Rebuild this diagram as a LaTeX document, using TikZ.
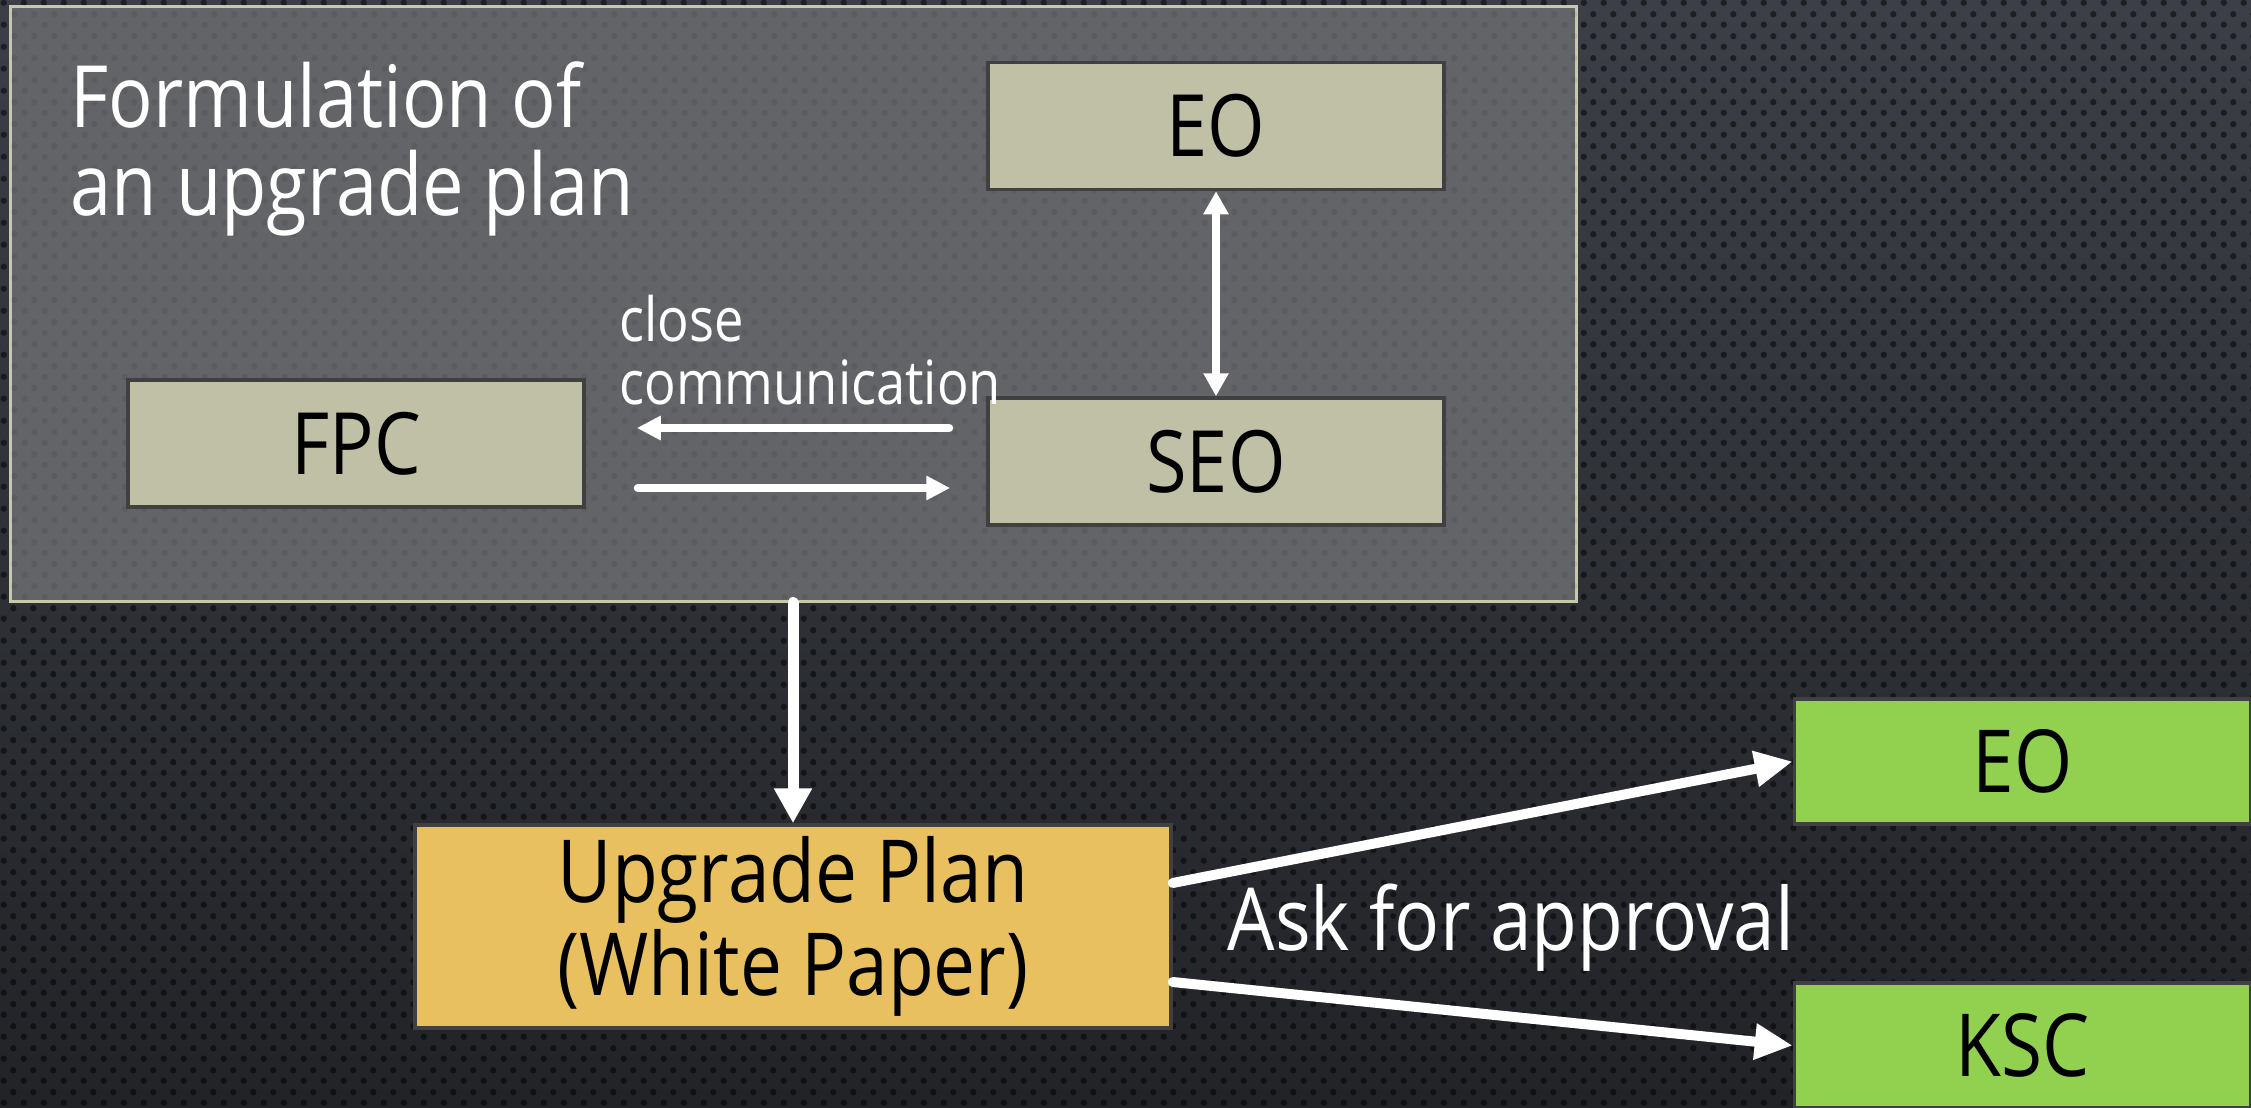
\documentclass[tikz,border=0pt]{standalone}
\usepackage{fontspec}
\setmainfont{Open Sans}[FakeStretch=0.86]
\usetikzlibrary{arrows.meta,patterns.meta}
\definecolor{bgtop}{HTML}{3C3F47}
\definecolor{bgbot}{HTML}{212327}
\definecolor{panelfill}{HTML}{636468}
\definecolor{panelline}{HTML}{C8C8AA}
\definecolor{beige}{HTML}{BFC0A5}
\definecolor{boxline}{HTML}{404040}
\definecolor{planfill}{HTML}{E8C060}
\definecolor{apprfill}{HTML}{92D050}
\pgfdeclarepattern{
  name=hexdots,
  type=uncolored,
  bottom left={\pgfpoint{0pt}{0pt}},
  top right={\pgfpoint{10pt}{11pt}},
  tile size={\pgfpoint{10pt}{11pt}},
  code={
    \pgfpathcircle{\pgfpoint{2.5pt}{2.75pt}}{1.65pt}
    \pgfpathcircle{\pgfpoint{7.5pt}{8.25pt}}{1.65pt}
    \pgfusepath{fill}
  }
}
\begin{document}
\begin{tikzpicture}[x=0.5pt,y=-0.5pt,
 boxbase/.style={draw=boxline, line width=1.75pt, inner sep=0pt, text=black},
 greybox/.style={boxbase, fill=beige, minimum width=228pt, minimum height=63.5pt, font=\fontsize{43}{46}\selectfont},
 greenbox/.style={boxbase, fill=apprfill, minimum width=228pt, minimum height=62.5pt, font=\fontsize{43.5}{46}\selectfont},
 planbox/.style={boxbase, fill=planfill, minimum width=378pt, minimum height=101.5pt, align=center, font=\fontsize{43.5}{46.5}\selectfont},
 panelbox/.style={draw=panelline, line width=1.5pt, fill=panelfill, minimum width=783pt, minimum height=297.5pt, inner sep=0pt},
 txt/.style={text=white, inner sep=0pt, align=left},
 smallarrow/.style={draw=white, line width=4pt, line cap=round, -{Triangle[length=12pt,width=11.5pt]}},
 dblarrow/.style={draw=white, line width=4pt, {Triangle[length=11.5pt,width=12pt]}-{Triangle[length=11.5pt,width=12pt]}},
 downarrow/.style={draw=white, line width=5.5pt, line cap=round, -{Triangle[length=17.5pt,width=18pt]}},
 bigarrow/.style={draw=white, line width=5pt, line cap=round, -{Triangle[length=19pt,width=17pt]}}
]
\useasboundingbox (0,0) rectangle (2251,1108);
\shade[top color=bgtop, bottom color=bgbot] (0,0) rectangle (2251,1108);
\fill[pattern=hexdots, pattern color=black, fill opacity=0.5] (0,0) rectangle (2251,1108);

\node[panelbox] (frame) at (793,303.5) {};
\fill[pattern=hexdots, pattern color=black, fill opacity=0.07] (frame.south west) rectangle (frame.north east);
\node[txt, anchor=north west, font=\fontsize{43}{44}\selectfont] (title) at (70,61) {Formulation of\\an upgrade plan};

\node[greybox] (eo) at (1216,126) {EO};
\node[greybox] (seo) at (1216,461.5) {SEO};
\node[greybox] (fpc) at (356,443.5) {FPC};
\node[txt, anchor=north west, font=\fontsize{30.5}{31.5}\selectfont] (cc) at (619,295) {close\\communication};

\node[planbox] (plan) at (793,926.5) {Upgrade Plan\\(White Paper)};
\node[greenbox] (eo2) at (2022.5,761.5) {EO};
\node[greenbox] (ksc) at (2022.5,1045.5) {KSC};
\node[txt, anchor=base, font=\fontsize{43.5}{46}\selectfont] (ask) at (1511,950) {Ask for approval};

\draw[dblarrow] (eo.south) -- (seo.north);
\draw[smallarrow] ([xshift=-18.5pt,yshift=16.75pt]seo.west) -- ([xshift=25.5pt,yshift=7.75pt]fpc.east);
\draw[smallarrow] ([xshift=26pt,yshift=-22.25pt]fpc.east) -- ([xshift=-18pt,yshift=-13.25pt]seo.west);
\draw[downarrow] (frame.south) -- (plan.north);
\draw[bigarrow] ([yshift=21.75pt]plan.east) -- (eo2.west);
\draw[bigarrow] ([yshift=-27.75pt]plan.east) -- (ksc.west);
\end{tikzpicture}
\end{document}
